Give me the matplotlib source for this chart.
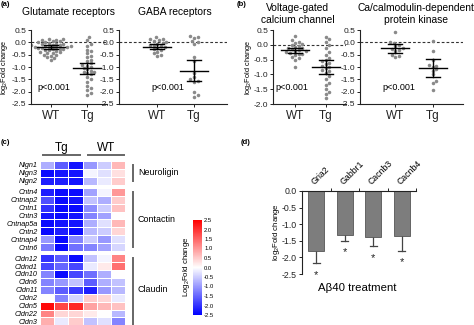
import numpy as np
import matplotlib
matplotlib.use("Agg")
import matplotlib.pyplot as plt

plt.rcParams['font.family'] = ['Liberation Sans', 'DejaVu Sans']
plt.rcParams['mathtext.default'] = 'regular'

# ---- (a)/(b) scatter data: log2 fold change per gene ----
glu_wt = [0.15, 0.12, 0.1, 0.08, 0.05, 0.05, 0.02, 0.0, -0.02, -0.05, -0.05, -0.08, -0.1, -0.1,
          -0.12, -0.14, -0.15, -0.17, -0.18, -0.2, -0.2, -0.22, -0.24, -0.25, -0.27, -0.28, -0.3,
          -0.32, -0.35, -0.38, -0.4, -0.42, -0.45, -0.5, -0.52, -0.55, -0.6, -0.65, -0.7]
glu_tg = [0.22, 0.08, -0.05, -0.15, -0.3, -0.35, -0.45, -0.55, -0.6, -0.7, -0.75, -0.85, -0.92,
          -0.95, -1.0, -1.05, -1.1, -1.15, -1.2, -1.22, -1.25, -1.3, -1.4, -1.5, -1.6, -1.75,
          -1.85, -1.95, -2.05, -2.15]
gaba_wt = [0.2, 0.15, 0.12, 0.08, 0.05, 0.02, -0.02, -0.05, -0.1, -0.12, -0.15, -0.2, -0.22,
           -0.28, -0.32, -0.4, -0.45, -0.5, -0.55]
gaba_tg = [0.25, 0.22, 0.18, 0.05, 0.0, -0.08, -0.6, -0.75, -1.25, -1.4, -1.5, -1.55, -1.6,
           -2.0, -2.15, -2.22]
vgcc_wt = [0.3, 0.15, 0.1, 0.05, 0.02, 0.0, -0.05, -0.08, -0.1, -0.12, -0.15, -0.18, -0.2,
           -0.22, -0.25, -0.28, -0.3, -0.32, -0.35, -0.4, -0.45, -0.5, -0.75]
vgcc_tg = [0.25, 0.2, 0.1, 0.0, -0.1, -0.25, -0.35, -0.45, -0.5, -0.55, -0.6, -0.65, -0.7,
           -0.75, -0.8, -0.85, -0.9, -0.95, -1.05, -1.15, -1.3, -1.35, -1.5, -1.6, -1.65, -1.8]
camk_wt = [0.4, 0.0, -0.02, -0.1, -0.15, -0.22, -0.25, -0.3, -0.35, -0.5, -0.55, -0.58]
camk_tg = [0.05, -0.35, -0.7, -0.9, -0.95, -1.0, -1.1, -1.15, -1.3, -1.55, -1.65, -1.95]

# group means and error limits (WT, Tg)
glu_mean, glu_lo, glu_hi = [-0.2, -1.05], [-0.28, -1.27], [-0.1, -0.82]
gaba_mean, gaba_lo, gaba_hi = [-0.18, -1.15], [-0.27, -1.58], [-0.08, -0.72]
vgcc_mean, vgcc_lo, vgcc_hi = [-0.18, -0.76], [-0.27, -0.99], [-0.1, -0.53]
camk_mean, camk_lo, camk_hi = [-0.22, -1.05], [-0.42, -1.42], [-0.05, -0.68]

groups = ['WT', 'Tg']

# ---- (c) heatmap ----
genes_nlgn = ['Nlgn1', 'Nlgn3', 'Nlgn2']
genes_cntn = ['Cntn4', 'Cntnap2', 'Cntn1', 'Cntn3', 'Cntnap5a', 'Cntn2', 'Cntnap4', 'Cntn6']
genes_cldn = ['Cldn12', 'Cldnd1', 'Cldn10', 'Cldn6', 'Cldn11', 'Cldn2', 'Cldn5', 'Cldn22', 'Cldn3']
heat_nlgn = [[-0.8, -1.6, -2.3, -1.0, -0.5, 0.7],
             [-2.4, -2.3, -2.3, -0.1, -0.3, 0.3],
             [-2.2, -2.2, -2.3, -0.7, -0.2, 0.5]]
heat_cntn = [[-2.2, -2.4, -2.4, -0.9, -0.1, 1.0],
             [-1.7, -2.4, -2.3, -0.6, -0.8, 0.5],
             [-2.0, -2.4, -2.4, -1.1, -0.5, 0.6],
             [-2.3, -2.4, -2.3, -1.2, -0.9, 0.0],
             [-2.4, -2.3, -2.3, -0.8, -0.3, 0.7],
             [-2.4, -2.2, -2.4, -0.7, -0.5, 0.4],
             [-1.0, -2.4, -1.2, -0.5, -1.0, -0.3],
             [-1.3, -2.4, -1.4, -1.2, -0.9, -0.4]]
heat_cldn = [[-2.0, -1.6, -2.4, -0.6, -0.1, 1.2],
             [-1.8, -1.5, -1.8, -0.2, 0.2, 1.4],
             [-1.2, -2.4, -1.8, -1.4, -0.8, 0.0],
             [-1.2, -1.0, -0.6, -1.6, -0.8, -0.6],
             [-1.2, -1.6, -1.9, -2.2, -1.0, -0.7],
             [0.0, -1.2, -0.4, 0.5, 0.4, -0.2],
             [2.4, 1.8, 2.1, 0.9, 0.7, 0.6],
             [1.2, 0.4, 0.4, 0.2, 0.0, -0.7],
             [0.8, -0.2, 0.5, -0.6, -0.3, -1.2]]
cbar_ticks = [2.5, 2.0, 1.5, 1.0, 0.5, 0.0, -0.5, -1.0, -1.5, -2.0, -2.5]

# ---- (d) Abeta40 treatment ----
d_genes = ['Gria2', 'Gabbr1', 'Cacnb3', 'Cacnb4']
d_vals = [-1.8, -1.32, -1.4, -1.37]
d_err_end = [-2.18, -1.5, -1.67, -1.8]

W, H = 474, 325
fig = plt.figure(figsize=(W / 100, H / 100), dpi=100)
fig.patch.set_facecolor('white')


def px_axes(x0, y0, x1, y1):
    return fig.add_axes([x0 / W, 1 - y1 / H, (x1 - x0) / W, (y1 - y0) / H])


def px_text(x, y, s, **kw):
    kw.setdefault('ha', 'center')
    kw.setdefault('va', 'center')
    return fig.text(x / W, 1 - y / H, s, **kw)


def swarm(vals, ppu_y, ppu_x, dia=3.6):
    vals = np.asarray(vals, float)
    placed = []
    offs = np.zeros(len(vals))
    for i in np.argsort(vals):
        y = vals[i] * ppu_y
        x = 0.0
        for k in range(60):
            cands = [0.0] if k == 0 else [k * dia / 2, -k * dia / 2]
            hit = None
            for c in cands:
                if all((c - px) ** 2 + (y - py) ** 2 >= dia ** 2 for px, py in placed):
                    hit = c
                    break
            if hit is not None:
                x = hit
                break
        placed.append((x, y))
        offs[i] = x / ppu_x
    return offs


def dot_panel(box, xlim, ylim, wt, tg, mean, lo, hi, yticks):
    ax = px_axes(*box)
    ppu_x = (box[2] - box[0]) / (xlim[1] - xlim[0])
    ppu_y = (box[3] - box[1]) / (ylim[1] - ylim[0])
    ax.axhline(0, color='#333333', lw=0.8, ls=(0, (2.5, 1.8)), zorder=1)
    for pos, vals in zip([1, 2], [wt, tg]):
        xs = pos + swarm(vals, ppu_y, ppu_x)
        ax.scatter(xs, vals, s=6.5, color='#8a8a8a', lw=0, zorder=2)
    for pos, m, l, h in zip([1, 2], mean, lo, hi):
        mw = 14 / ppu_x
        cw = 7 / ppu_x
        ax.plot([pos - mw, pos + mw], [m, m], color='black', lw=1.0, zorder=3)
        ax.plot([pos, pos], [l, h], color='black', lw=1.0, zorder=3)
        for e in (l, h):
            ax.plot([pos - cw, pos + cw], [e, e], color='black', lw=1.0, zorder=3)
    ax.set_xlim(*xlim)
    ax.set_ylim(*ylim)
    ax.set_yticks(yticks)
    ax.set_yticklabels(['%.1f' % t for t in yticks])
    ax.set_xticks([1, 2])
    ax.set_xticklabels(groups, fontsize=8.5)
    ax.tick_params(axis='y', labelsize=6.0, length=2.5, width=0.7, pad=1.0, colors='#222222')
    ax.tick_params(axis='x', length=2.5, width=0.7, pad=1.5, colors='#222222')
    for sp in ('top', 'right'):
        ax.spines[sp].set_visible(False)
    for sp in ('left', 'bottom'):
        ax.spines[sp].set_linewidth(0.8)
        ax.spines[sp].set_color('#222222')
    ax.patch.set_alpha(0)
    return ax


yt3 = [0.5, 0.0, -0.5, -1.0, -1.5, -2.0, -2.5]
yt2 = [0.5, 0.0, -0.5, -1.0, -1.5, -2.0]
dot_panel((31, 30, 107, 104), (0.46, 2.54), (-2.5, 0.5), glu_wt, glu_tg, glu_mean, glu_lo, glu_hi, yt3)
dot_panel((119, 30, 227, 104), (-0.05, 2.9), (-2.5, 0.5), gaba_wt, gaba_tg, gaba_mean, gaba_lo, gaba_hi, yt3)
dot_panel((273, 30, 346, 104), (0.27, 2.67), (-2.0, 0.5), vgcc_wt, vgcc_tg, vgcc_mean, vgcc_lo, vgcc_hi, yt2)
dot_panel((360, 30, 463, 104), (0.05, 2.82), (-2.5, 0.5), camk_wt, camk_tg, camk_mean, camk_lo, camk_hi, yt3)

tfs = 7.4
px_text(69, 12, 'Glutamate receptors', fontsize=tfs)
px_text(175, 12, 'GABA receptors', fontsize=tfs)
px_text(298, 8, 'Voltage-gated', fontsize=tfs)
px_text(298, 20, 'calcium channel', fontsize=tfs)
px_text(416, 8, 'Ca/calmodulin-dependent', fontsize=tfs)
px_text(416, 20, 'protein kinase', fontsize=tfs)
for x in (54, 168, 292, 399):
    px_text(x, 88, 'p<0.001', fontsize=6.5)
px_text(5, 67, 'log$_2$Fold change', fontsize=5.3, rotation=90)
px_text(248, 67, 'log$_2$Fold change', fontsize=5.3, rotation=90)

px_text(1, 4, '(a)', fontsize=5.5, fontweight='bold', ha='left')
px_text(237, 4, '(b)', fontsize=5.5, fontweight='bold', ha='left')
px_text(1, 143, '(c)', fontsize=5.5, fontweight='bold', ha='left')
px_text(241, 143, '(d)', fontsize=5.5, fontweight='bold', ha='left')

# ---- heatmap (c) ----
gap = 0.4
blocks = [(genes_nlgn, heat_nlgn), (genes_cntn, heat_cntn), (genes_cldn, heat_cldn)]
edges, rows, labels, centers = [0.0], [], [], []
y = 0.0
for bi, (g, vals) in enumerate(blocks):
    for name, r in zip(g, vals):
        rows.append(r)
        labels.append(name)
        centers.append(y + 0.5)
        y += 1.0
        edges.append(y)
    if bi < len(blocks) - 1:
        rows.append([np.nan] * 6)
        y += gap
        edges.append(y)
Z = np.ma.masked_invalid(np.array(rows, float))
total = y
row_px = 7.9
hx = px_axes(40, 161, 125, 161 + total * row_px)
mesh = hx.pcolormesh(np.arange(7), np.array(edges), Z, cmap='bwr', vmin=-2.5, vmax=2.5,
                     edgecolors='white', linewidth=0.6)
hx.set_ylim(total, 0)
hx.set_xlim(0, 6)
hx.set_yticks(centers)
hx.set_yticklabels(labels, fontsize=5.2, fontstyle='italic')
hx.set_xticks([])
hx.tick_params(axis='y', length=0, pad=1.5)
for sp in hx.spines.values():
    sp.set_visible(False)

px_text(62, 148, 'Tg', fontsize=8.5)
px_text(106, 148, 'WT', fontsize=8.5)
fig.add_artist(plt.Line2D([43 / W, 80 / W], [1 - 155 / H] * 2, color='#666666', lw=1.4))
fig.add_artist(plt.Line2D([88 / W, 124 / W], [1 - 155 / H] * 2, color='#666666', lw=1.4))
for y0, y1, name, ly in [(165, 181, 'Neuroligin', 173), (192, 247, 'Contactin', 220),
                         (258, 330, 'Claudin', 290)]:
    fig.add_artist(plt.Line2D([133 / W] * 2, [1 - y0 / H, 1 - y1 / H], color='#666666', lw=1.4))
    px_text(138, ly, name, fontsize=6.4, ha='left')

cax = px_axes(193, 220, 202, 315)
cb = fig.colorbar(mesh, cax=cax, ticks=cbar_ticks)
cb.outline.set_visible(False)
cb.ax.tick_params(labelsize=4.2, length=0, pad=1.5)
cb.ax.set_yticklabels(['%.1f' % t for t in cbar_ticks])
px_text(187, 267, 'Log$_2$Fold change', fontsize=5.6, rotation=90)

# ---- bar chart (d) ----
bx = px_axes(302, 191, 416, 274)
xs = np.arange(len(d_genes))
bx.bar(xs, d_vals, width=0.56, color='#7d7d7d', edgecolor='#555555', linewidth=0.6, zorder=2)
for x, v, e in zip(xs, d_vals, d_err_end):
    bx.plot([x, x], [v, e], color='#444444', lw=0.9, zorder=1)
    bx.plot([x - 0.13, x + 0.13], [e, e], color='#444444', lw=0.9, zorder=1)
    bx.text(x, e - 0.2, '*', ha='center', va='top', fontsize=8, color='#222222')
bx.set_xlim(-0.5, 3.5)
bx.set_ylim(-2.5, 0)
bx.xaxis.tick_top()
bx.set_xticks(xs)
bx.set_xticklabels(d_genes, rotation=45, ha='left', va='bottom', fontsize=6.3,
                   rotation_mode='anchor')
bx.set_xticks([0.5, 1.5, 2.5, 3.5], minor=True)
bx.tick_params(axis='x', which='major', length=0, pad=3)
bx.tick_params(axis='x', which='minor', length=2.5, width=0.7, colors='#222222')
bx.set_yticks([0.0, -0.5, -1.0, -1.5, -2.0, -2.5])
bx.set_yticklabels(['0.0', '-0.5', '-1.0', '-1.5', '-2.0', '-2.5'])
bx.tick_params(axis='y', labelsize=6.3, length=2.5, width=0.7, pad=1.2, colors='#222222')
for sp in ('bottom', 'right'):
    bx.spines[sp].set_visible(False)
for sp in ('left', 'top'):
    bx.spines[sp].set_linewidth(0.8)
    bx.spines[sp].set_color('#222222')
px_text(276, 232, 'log$_2$Fold change', fontsize=5.6, rotation=90)
px_text(357, 288, 'A\u03b240 treatment', fontsize=8.2)

fig.savefig('out.png', dpi=100)
